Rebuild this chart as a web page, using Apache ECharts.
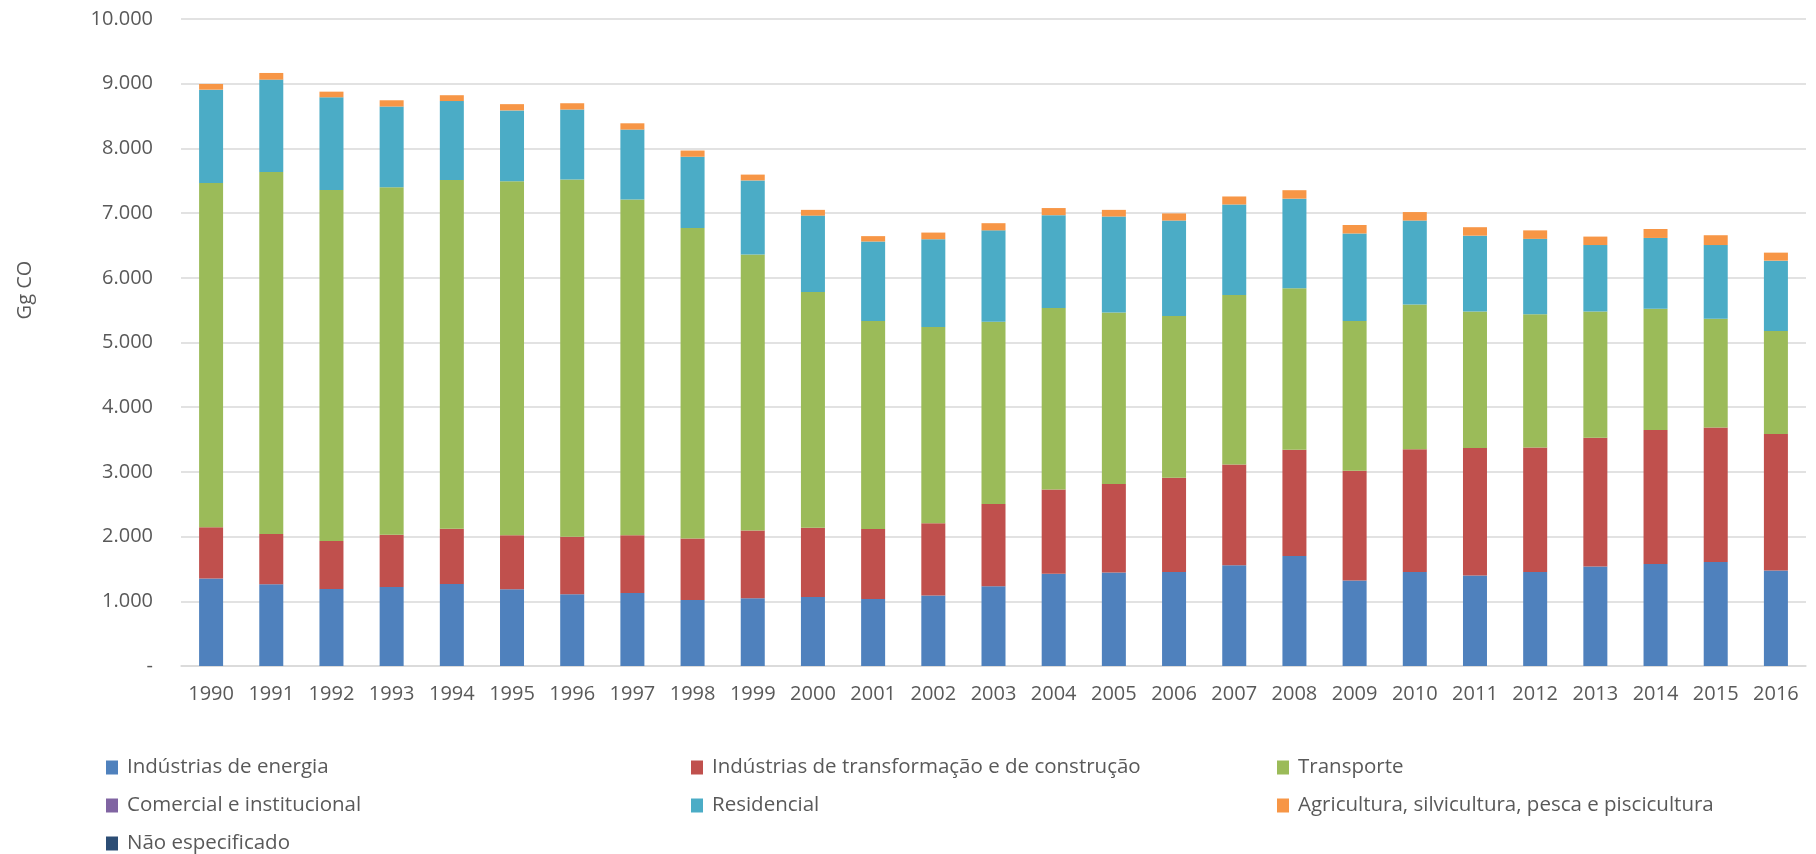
<!DOCTYPE html>
<html>
<head>
<meta charset="utf-8">
<script src="https://cdn.jsdelivr.net/npm/echarts@6/dist/echarts.min.js"></script>
<style>
  html, body { margin: 0; padding: 0; background: #fff; }
  #main { width: 1816px; height: 854px; }
</style>
</head>
<body>
<div id="main"></div>
<script>
// anos
const years = ['1990','1991','1992','1993','1994','1995','1996','1997','1998','1999',
  '2000','2001','2002','2003','2004','2005','2006','2007','2008','2009',
  '2010','2011','2012','2013','2014','2015','2016'];

// Gg CO por sector
const energia = [1354,1262,1190,1221,1268,1185,1110,1130,1020,1048,
  1068,1034,1089,1234,1427,1447,1454,1558,1702,1323,
  1454,1399,1454,1537,1578,1606,1475];
const transformacao = [790,779,743,809,855,834,889,889,951,1047,
  1069,1082,1116,1268,1302,1365,1454,1557,1641,1696,
  1896,1971,1923,1992,2068,2081,2109];
const transporte = [5322,5595,5425,5370,5389,5473,5520,5190,4797,4266,
  3645,3218,3033,2819,2805,2653,2502,2619,2495,2315,
  2239,2109,2061,1950,1874,1682,1592];
const comercial = years.map(() => 0);
const residencial = [1442,1427,1432,1247,1220,1095,1082,1082,1103,1144,
  1179,1227,1358,1412,1434,1482,1475,1399,1385,1351,
  1296,1172,1164,1027,1096,1137,1089];
const agricultura = [88,103,87,97,90,97,97,97,96,90,
  89,83,103,111,110,103,110,124,131,131,
  131,131,131,131,138,152,124];
const naoEspecificado = years.map(() => 0);

const yTicks = [0,1000,2000,3000,4000,5000,6000,7000,8000,9000,10000];

const textColor = '#595959';
const font = '"Open Sans", "Noto Sans", sans-serif';

let myChart = echarts.init(document.getElementById('main'));

function serie(name, data, color) {
  return {
    name: name,
    type: 'bar',
    stack: 'total',
    barWidth: 24,
    data: data,
    itemStyle: { color: color },
    emphasis: { disabled: true }
  };
}

let legendText = {
  color: textColor, fontSize: 20.5, fontFamily: font, lineHeight: 20,
  padding: [0, 0, 0, 4]
};

// tres colunas de legenda
function legenda(left, names) {
  return {
    left: left, top: 757, orient: 'vertical', itemGap: 17, padding: 0,
    itemWidth: 12, itemHeight: 14, icon: 'rect', textStyle: legendText,
    data: names
  };
}

let option = {
  animation: false,
  grid: { left: 181, right: 10, top: 19, bottom: 188, containLabel: false },
  xAxis: {
    type: 'category',
    data: years,
    axisTick: { show: false },
    axisLine: { lineStyle: { color: '#D9D9D9', width: 1.5 } },
    axisLabel: { color: textColor, fontSize: 20, fontFamily: font, margin: 18 }
  },
  yAxis: {
    type: 'value',
    min: 0,
    max: 10000,
    interval: 1000,
    axisLine: { show: false },
    axisTick: { show: false },
    splitLine: { lineStyle: { color: '#D9D9D9', width: 1.5 } },
    axisLabel: {
      color: textColor, fontSize: 20, fontFamily: font, margin: 28,
      formatter: function (v) {
        if (yTicks.indexOf(v) < 0) return '';
        return v === 0 ? '-' : (v / 1000) + '.000';
      }
    }
  },
  legend: [
    legenda(106, ['Indústrias de energia', 'Comercial e institucional', 'Não especificado']),
    legenda(691, ['Indústrias de transformação e de construção', 'Residencial']),
    legenda(1277, ['Transporte', 'Agricultura, silvicultura, pesca e piscicultura'])
  ],
  graphic: [
    {
      type: 'text',
      x: 25, y: 290,
      rotation: Math.PI / 2,
      style: {
        text: 'Gg CO',
        fill: textColor,
        fontSize: 20,
        fontFamily: font,
        align: 'center',
        verticalAlign: 'middle'
      }
    }
  ],
  series: [
    serie('Indústrias de energia', energia, '#4F81BD'),
    serie('Indústrias de transformação e de construção', transformacao, '#C0504D'),
    serie('Transporte', transporte, '#9BBB59'),
    serie('Comercial e institucional', comercial, '#8064A2'),
    serie('Residencial', residencial, '#4BACC6'),
    serie('Agricultura, silvicultura, pesca e piscicultura', agricultura, '#F79646'),
    serie('Não especificado', naoEspecificado, '#2C4D75')
  ]
};

myChart.setOption(option);
</script>
</body>
</html>
